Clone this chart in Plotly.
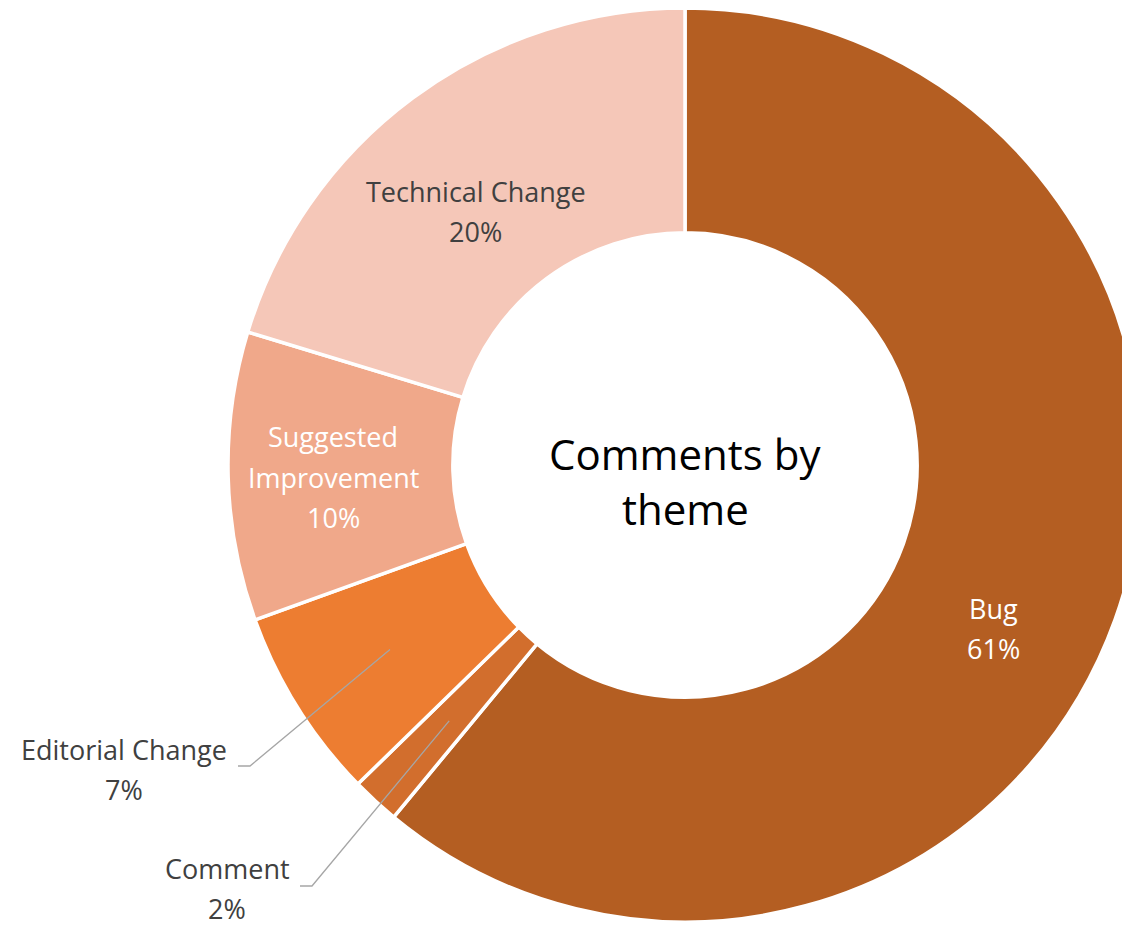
import math
import plotly.graph_objects as go

# ---------------- data ----------------
labels = ["Bug", "Comment", "Editorial Change", "Suggested Improvement", "Technical Change"]
values = [61.0, 1.7, 6.8, 10.2, 20.3]
percent_text = ["61%", "2%", "7%", "10%", "20%"]
label_lines = [["Bug"], ["Comment"], ["Editorial Change"], ["Suggested", "Improvement"], ["Technical Change"]]
colors = ["#B45E22", "#D26E2D", "#ED7D31", "#F0A88A", "#F5C7B8"]
text_colors = ["#FFFFFF", "#404040", "#404040", "#FFFFFF", "#404040"]
title_lines = ["Comments by", "theme"]

# ---------------- layout constants (screen pixels) ----------------
OFF = 8                    # page body margin
W, H = 1160, 925           # figure size (page is cropped to 1130x925 window)
CX, CY = 685, 465          # donut centre on screen
R_OUT = 457
HOLE = 0.508
LINE_H = 40                # label line spacing
LABEL_SIZE = 27
FONT = "Open Sans"

# label block anchor (centre of the first line) on screen
label_pos = {
    "Bug": (993, 608),
    "Comment": (227, 868),
    "Editorial Change": (124, 749),
    "Suggested Improvement": (333, 437),
    "Technical Change": (476, 192),
}
# outside labels with leader lines: where the leader line leaves the text
leader_start = {
    "Comment": (300, 886),
    "Editorial Change": (238, 766),
}
LEADER_ELBOW = 12
LEADER_R = 348


def px(xs, ys):
    """screen pixel -> paper coords"""
    return (xs - OFF) / W, 1 - (ys - OFF) / H


fx, fy = CX - OFF, CY - OFF
ytop = min(1.0, 1 - (fy - R_OUT) / H)
fig = go.Figure(go.Pie(
    labels=labels,
    values=values,
    textinfo="none",
    hole=HOLE,
    sort=False,
    direction="clockwise",
    rotation=0,
    marker=dict(colors=colors, line=dict(color="white", width=3.5)),
    domain=dict(x=[(fx - R_OUT) / W, (fx + R_OUT) / W],
                y=[1 - (fy + R_OUT) / H, ytop]),
    showlegend=False,
    hoverinfo="label+percent",
))

# slice labels
for lab, lines, pct, tc in zip(labels, label_lines, percent_text, text_colors):
    x0, y0 = label_pos[lab]
    for i, t in enumerate(lines + [pct]):
        ax, ay = px(x0, y0 + i * LINE_H)
        fig.add_annotation(x=ax, y=ay, xref="paper", yref="paper", text=t,
                           showarrow=False, xanchor="center", yanchor="middle",
                           font=dict(family=FONT, size=LABEL_SIZE, color=tc))

# leader lines, ending at each slice's mid angle inside the ring
total = sum(values)
cum = 0
for lab, v in zip(labels, values):
    mid = (cum + v / 2) / total * 2 * math.pi
    cum += v
    if lab not in leader_start:
        continue
    ex = CX + LEADER_R * math.sin(mid)
    ey = CY - LEADER_R * math.cos(mid)
    sx, sy = leader_start[lab]
    p0 = px(sx, sy)
    p1 = px(sx + LEADER_ELBOW, sy)
    p2 = px(ex, ey)
    fig.add_shape(type="path", xref="paper", yref="paper",
                  path=f"M {p0[0]} {p0[1]} L {p1[0]} {p1[1]} L {p2[0]} {p2[1]}",
                  line=dict(color="#A6A6A6", width=1.3))

# centre title
for i, t in enumerate(title_lines):
    ax, ay = px(CX, 453 + i * 55)
    fig.add_annotation(x=ax, y=ay, xref="paper", yref="paper", text=t,
                       showarrow=False, xanchor="center", yanchor="middle",
                       font=dict(family=FONT, size=42, color="black"))

fig.update_layout(
    width=W, height=H,
    margin=dict(l=0, r=0, t=0, b=0),
    paper_bgcolor="white",
    plot_bgcolor="white",
)

fig.write_html("out.html")
